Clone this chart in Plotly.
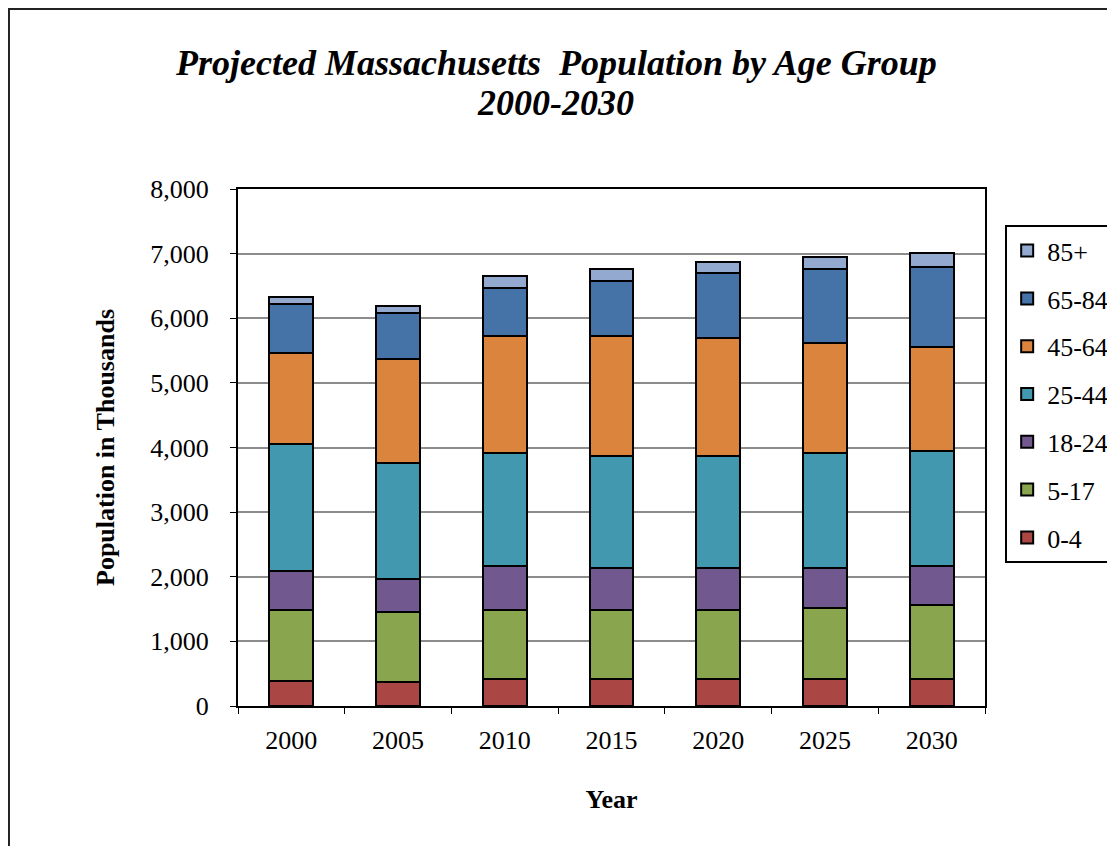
import plotly.graph_objects as go

years = ["2000", "2005", "2010", "2015", "2020", "2025", "2030"]

age_0_4 = [390, 377, 423, 423, 423, 423, 423]
age_5_17 = [1094, 1080, 1061, 1061, 1061, 1101, 1138]
age_18_24 = [609, 501, 682, 645, 645, 605, 610]
age_25_44 = [1954, 1809, 1746, 1747, 1747, 1783, 1777]
age_45_64 = [1421, 1602, 1814, 1850, 1814, 1705, 1602]
age_65_84 = [749, 709, 744, 852, 1003, 1143, 1236]
age_85_up = [113, 108, 186, 182, 170, 181, 217]

groups = ["0-4", "5-17", "18-24", "25-44", "45-64", "65-84", "85+"]
series = [age_0_4, age_5_17, age_18_24, age_25_44, age_45_64, age_65_84, age_85_up]
colors = ["#AA4644", "#89A54E", "#71588F", "#4198AF", "#DB843D", "#4572A7", "#93A9CF"]

serif = "Liberation Serif"

fig = go.Figure()
for i, (name, vals, col) in enumerate(zip(groups, series, colors)):
    fig.add_trace(go.Bar(
        x=years, y=vals, name=name, legendgroup=name,
        legendrank=len(groups) - i,
        marker=dict(color=col, line=dict(color="black", width=2)),
    ))

# the page body adds an 8px offset, so margins are shifted by 8
fig.update_layout(
    barmode="stack",
    bargap=0.59,
    width=1115, height=846,
    margin=dict(l=230, r=138, t=181, b=148, autoexpand=False),
    paper_bgcolor="white",
    plot_bgcolor="white",
    font=dict(family=serif, size=26, color="black"),
    legend=dict(
        x=1.027, xanchor="left", y=0.930, yanchor="top",
        traceorder="grouped", tracegroupgap=11,
        bordercolor="black", borderwidth=2,
        font=dict(family=serif, size=26, color="black"),
        itemwidth=30,
    ),
    showlegend=True,
)

fig.add_annotation(text="<b><i>Projected Massachusetts  Population by Age Group</i></b>",
                   xref="paper", yref="paper", x=0.4257, y=1.2437,
                   xanchor="center", yanchor="middle", showarrow=False,
                   font=dict(family=serif, size=36, color="black"))
fig.add_annotation(text="<b><i>2000-2030</i></b>",
                   xref="paper", yref="paper", x=0.4257, y=1.1663,
                   xanchor="center", yanchor="middle", showarrow=False,
                   font=dict(family=serif, size=36, color="black"))

fig.update_xaxes(
    title=dict(text="<b>Year</b>", font=dict(size=26), standoff=36),
    showline=True, linecolor="black", linewidth=2, mirror=True,
    ticks="outside", tickson="boundaries", ticklen=6, tickcolor="black",
    ticklabelstandoff=10,
    tickfont=dict(size=26),
)
fig.update_yaxes(
    title=dict(text="<b>Population in Thousands</b>", font=dict(size=26), standoff=28),
    range=[0, 8000], dtick=1000, tickformat=",d",
    showline=True, linecolor="black", linewidth=2, mirror=True,
    showgrid=True, gridcolor="#8c8c8c", gridwidth=2,
    ticks="outside", ticklen=6, tickcolor="black",
    ticklabelstandoff=16,
    tickfont=dict(size=26), zeroline=False,
)

# outer chart frame
fig.add_shape(type="rect", xref="paper", yref="paper",
              x0=-0.3066, x1=1.4, y0=-0.5, y1=1.348,
              line=dict(color="#222222", width=2), layer="below")

fig.write_html("out.html")
